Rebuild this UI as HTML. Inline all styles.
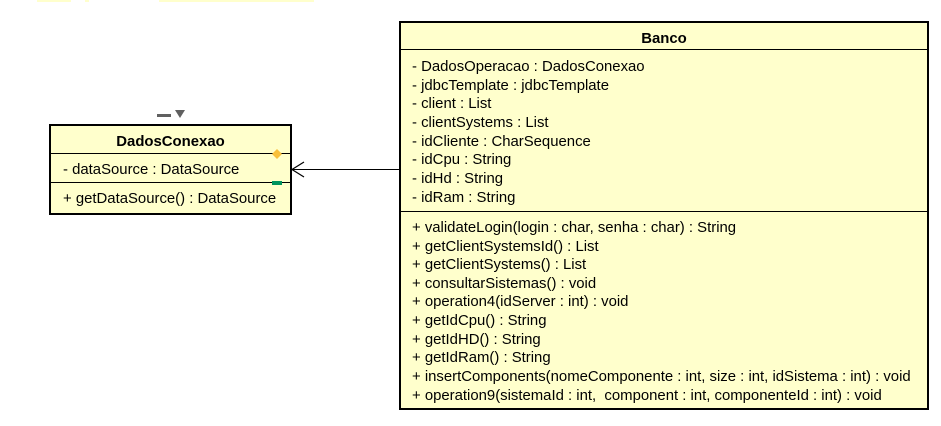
<!DOCTYPE html>
<html><head><meta charset="utf-8"><style>
html,body{margin:0;padding:0;background:#fff;}
body{width:941px;height:426px;position:relative;overflow:hidden;font-family:"Liberation Sans",Arial,sans-serif;font-size:14.9px;color:#000;}
.box{position:absolute;background:#ffffcc;border:2px solid #000;box-sizing:border-box;}
.sep{position:absolute;left:0;right:0;height:0;border-top:1px solid #000;}
.t{position:absolute;white-space:nowrap;line-height:15px;}
.title{font-weight:bold;left:0;right:0;text-align:center;}
.strip{position:absolute;top:0;height:2px;background:#ffffcc;}
</style></head><body>
<div class="strip" style="left:37px;width:34px"></div>
<div class="strip" style="left:85px;width:4px"></div>
<div class="strip" style="left:159px;width:155px"></div>

<div class="box" style="left:49px;top:124px;width:243px;height:91px;">
  <div class="t title" style="top:9px">DadosConexao</div>
  <div class="sep" style="top:27px"></div>
  <div class="t" style="left:12px;top:37px">- dataSource : DataSource</div>
  <div class="sep" style="top:56px"></div>
  <div class="t" style="left:12px;top:66px">+ getDataSource() : DataSource</div>
</div>

<div class="box" style="left:399px;top:21px;width:530px;height:389px;">
  <div class="t title" style="top:9px">Banco</div>
  <div class="sep" style="top:26px"></div>
  <div class="t" style="left:11px;top:37px">- DadosOperacao : DadosConexao</div>
  <div class="t" style="left:11px;top:56px">- jdbcTemplate : jdbcTemplate</div>
  <div class="t" style="left:11px;top:74px">- client : List</div>
  <div class="t" style="left:11px;top:93px">- clientSystems : List</div>
  <div class="t" style="left:11px;top:112px">- idCliente : CharSequence</div>
  <div class="t" style="left:11px;top:130px">- idCpu : String</div>
  <div class="t" style="left:11px;top:149px">- idHd : String</div>
  <div class="t" style="left:11px;top:168px">- idRam : String</div>
  <div class="sep" style="top:188px"></div>
  <div class="t" style="left:11px;top:198px">+ validateLogin(login : char, senha : char) : String</div>
  <div class="t" style="left:11px;top:217px">+ getClientSystemsId() : List</div>
  <div class="t" style="left:11px;top:235px">+ getClientSystems() : List</div>
  <div class="t" style="left:11px;top:254px">+ consultarSistemas() : void</div>
  <div class="t" style="left:11px;top:272px">+ operation4(idServer : int) : void</div>
  <div class="t" style="left:11px;top:291px">+ getIdCpu() : String</div>
  <div class="t" style="left:11px;top:310px">+ getIdHD() : String</div>
  <div class="t" style="left:11px;top:328px">+ getIdRam() : String</div>
  <div class="t" style="left:11px;top:347px">+ insertComponents(nomeComponente : int, size : int, idSistema : int) : void</div>
  <div class="t" style="left:11px;top:366px">+ operation9(sistemaId : int,&nbsp; component : int, componenteId : int) : void</div>
</div>

<svg width="941" height="426" style="position:absolute;left:0;top:0" xmlns="http://www.w3.org/2000/svg">
  <line x1="292" y1="169.5" x2="399" y2="169.5" stroke="#000" stroke-width="1"/>
  <polyline points="304,162 292,169.5 304,177" fill="none" stroke="#000" stroke-width="1.2"/>
  <polygon points="277,149 282,154 277,159 272,154" fill="#f9c03c"/>
  <rect x="272" y="181" width="10" height="4" fill="#00945e"/>
  <rect x="157" y="114" width="14" height="3" fill="#606060"/>
  <polygon points="175,110 185,110 180,118" fill="#606060"/>
</svg>
</body></html>
